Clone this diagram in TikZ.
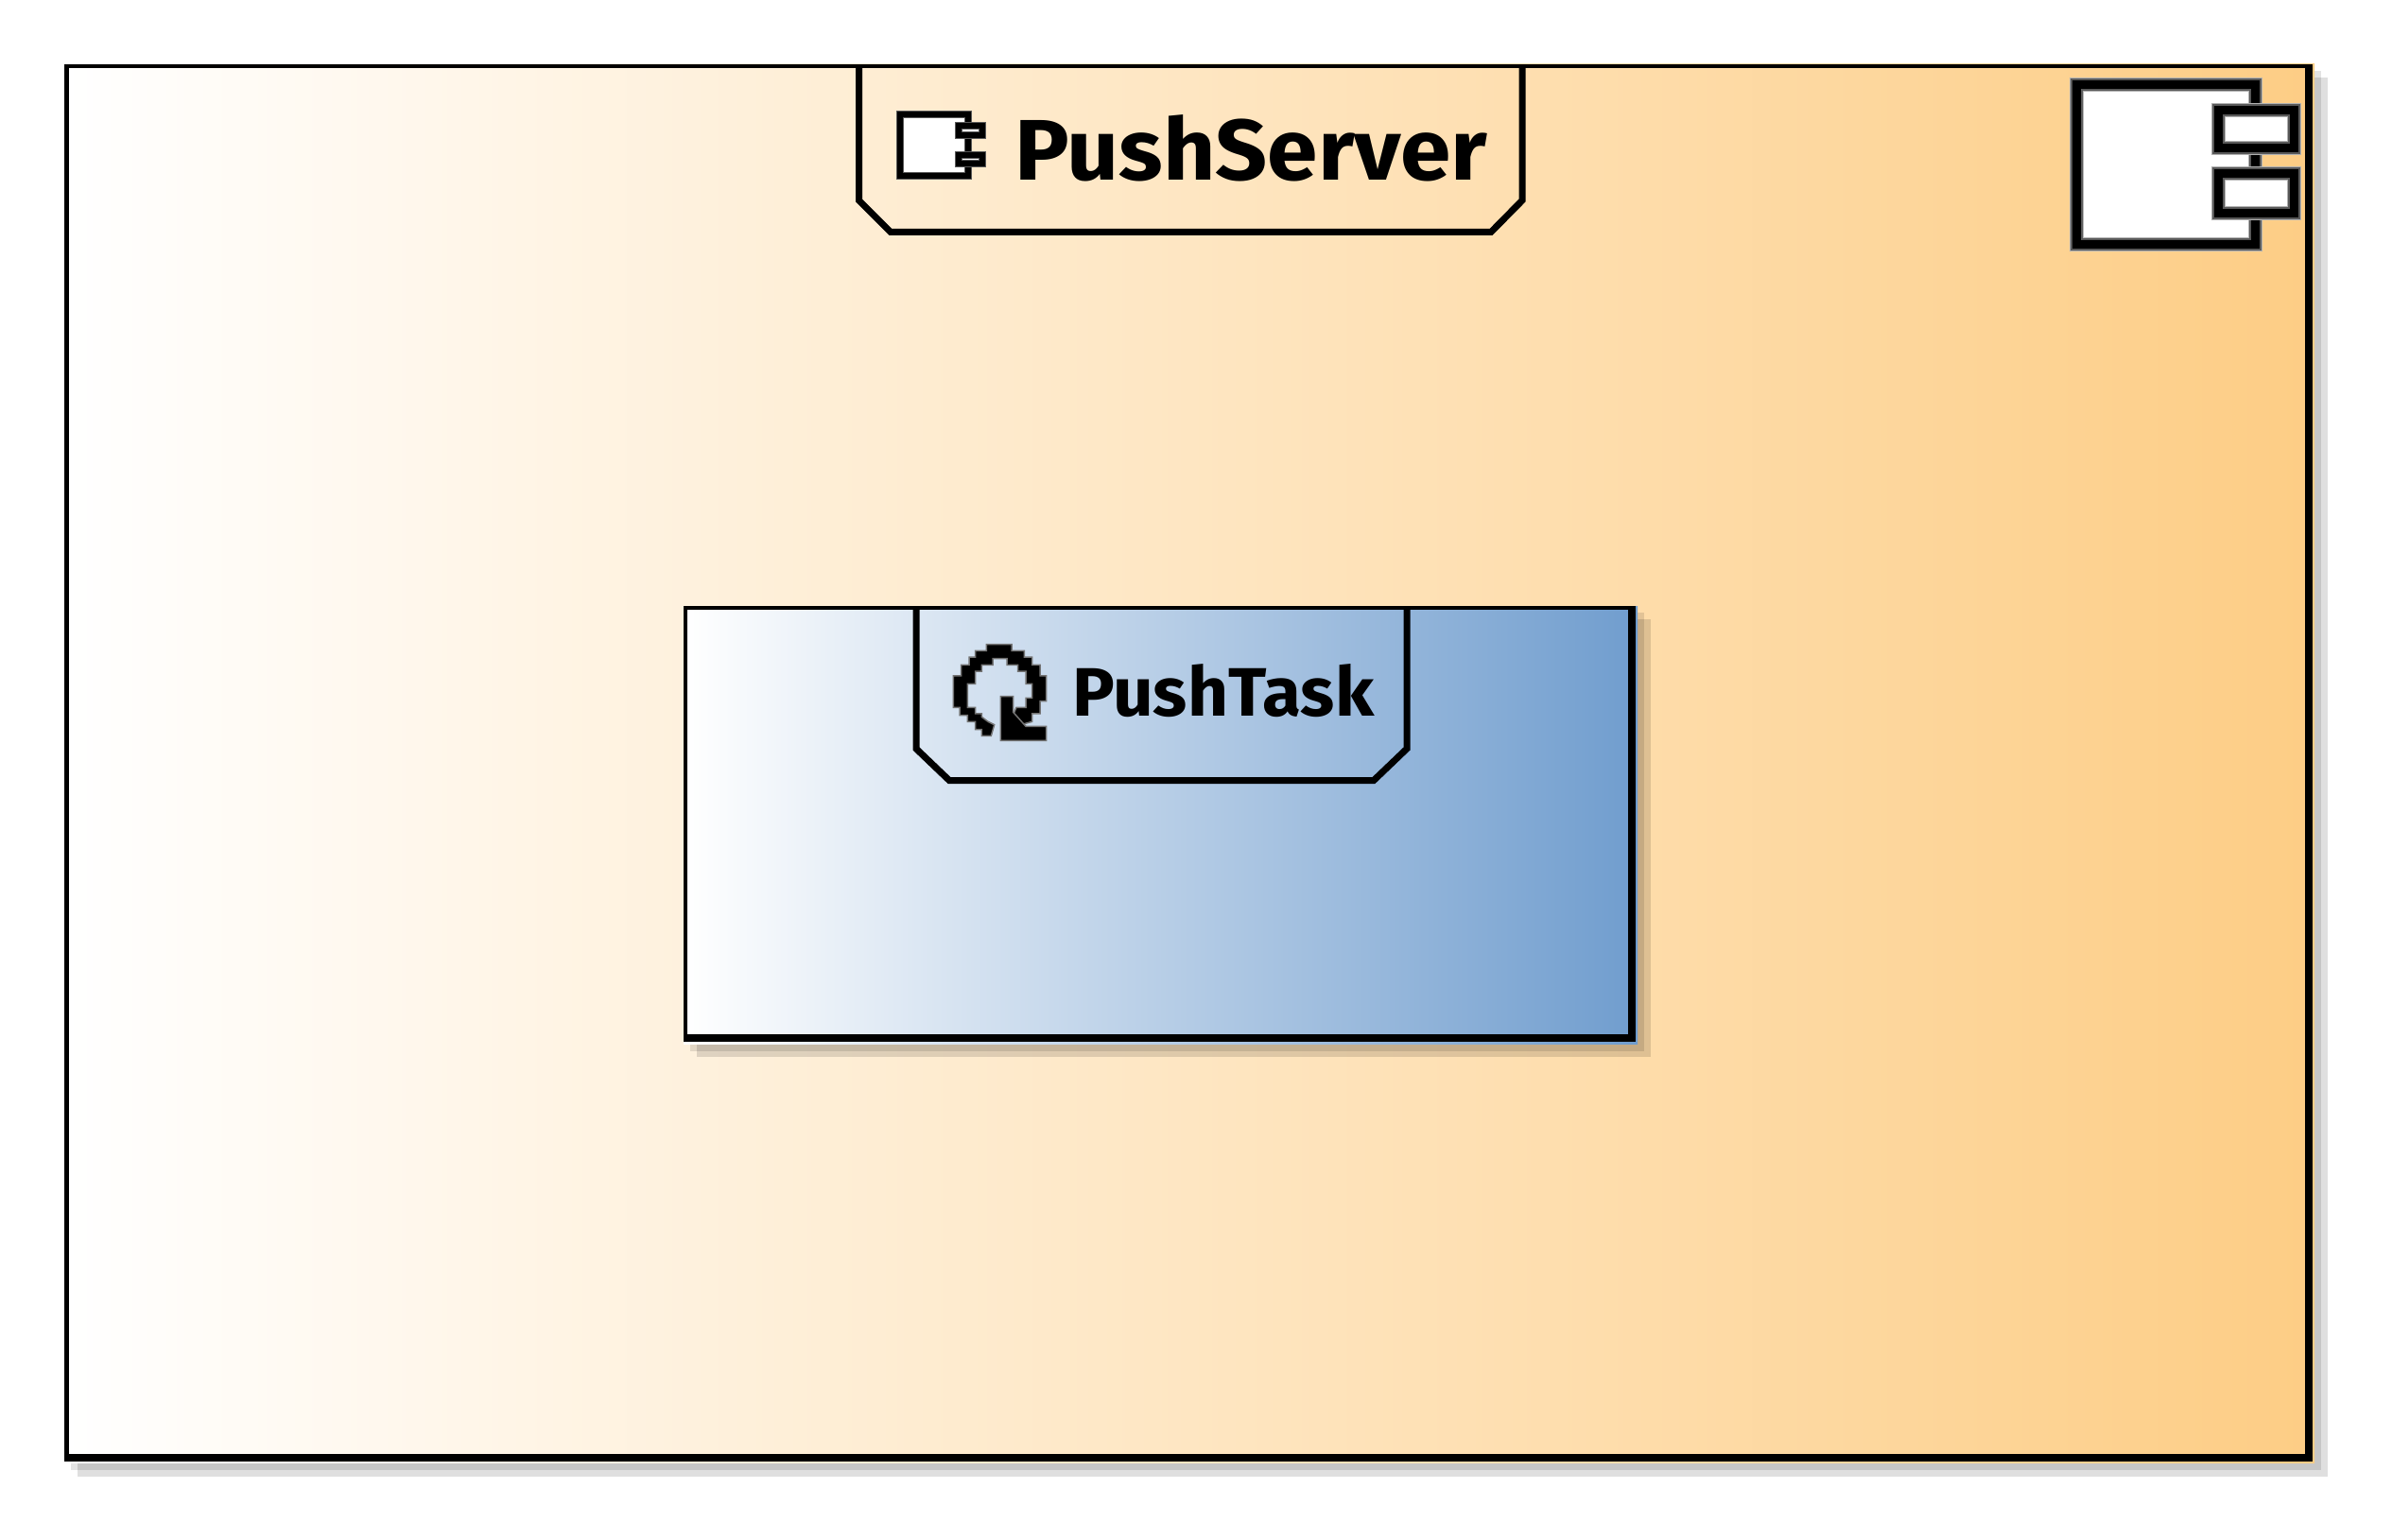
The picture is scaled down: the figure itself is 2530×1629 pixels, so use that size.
\documentclass[tikz,border=0pt]{standalone}
\usepackage{fontspec}
\setmainfont{Fira Sans}
\definecolor{orangeend}{HTML}{FDCD85}
\definecolor{blueend}{HTML}{709DCE}
\tikzset{
  shadowouter/.style={fill=black,fill opacity=0.125,draw=none},
  shadowinner/.style={fill=black,fill opacity=0.11,draw=none},
  thinedge/.style={draw=black,line width=4.4pt,line cap=butt,line join=miter},
  thickedge/.style={draw=black,line width=8pt,line cap=butt,line join=miter},
  tabline/.style={draw=black,line width=7pt,line join=miter,line cap=butt},
  textlabel/.style={inner sep=0pt,anchor=base west,text=black},
  softrim/.style={draw=black!30,line join=miter},
  midrim/.style={draw=black!65,line join=miter},
  corerim/.style={draw=black,line join=miter},
  iconshape/.style={fill=black,draw=black!55,line width=1.5pt,line join=miter}
}
\newcommand{\softrect}[5]{%
  \fill[white] (#1,#2) rectangle (#3,#4);
  \draw[softrim,line width=1.1*#5pt] (#1,#2) rectangle (#3,#4);
  \draw[midrim,line width=#5pt] (#1,#2) rectangle (#3,#4);
  \draw[corerim,line width=0.7*#5pt] (#1,#2) rectangle (#3,#4);
}
\begin{document}
\begin{tikzpicture}[x=1pt,y=-1pt]
\useasboundingbox (0,0) rectangle (2530,1629);
\fill[white] (0,0) rectangle (2530,1629);

% outer frame
\fill[shadowouter] (82,82) rectangle (2462,1562);
\fill[shadowinner] (75,75) rectangle (2455,1555);
\shade[left color=white,right color=orangeend] (68,68) rectangle (2448,1547);
\draw[thinedge] (70.4,1546) -- (70.4,70.2) -- (2446,70.2);
\draw[thickedge] (2442,68) -- (2442,1542) -- (68,1542);

% PushServer tab
\draw[tabline] (908.5,70) -- (908.5,212) -- (942,245.5) -- (1577,245.5) -- (1610,212) -- (1610,70);
\node[textlabel,font=\fontsize{91pt}{91pt}\selectfont\bfseries] (servername) at (1073,191) {\resizebox{500pt}{\height}{PushServer}};

% small component icon
\softrect{952}{121}{1024}{186}{8}
\softrect{1014}{133}{1039}{143}{8}
\softrect{1014}{164}{1039}{173}{8}

% large component icon
\softrect{2196.5}{89.5}{2385.5}{258.5}{13}
\softrect{2346.5}{116.5}{2426.5}{156.5}{13}
\softrect{2346.5}{183.5}{2426.5}{225.5}{13}

% inner frame
\fill[shadowouter] (737,655) rectangle (1746,1118);
\fill[shadowinner] (730,648) rectangle (1739,1112);
\shade[left color=white,right color=blueend] (723,641) rectangle (1732,1104);
\draw[thinedge] (725.2,1100) -- (725.2,643.2) -- (1728,643.2);
\draw[thickedge] (1726,641) -- (1726,1098) -- (723,1098);

% PushTask tab
\draw[tabline] (969,643) -- (969,792) -- (1004,825.5) -- (1453,825.5) -- (1488,792) -- (1488,643);
\node[textlabel,font=\fontsize{72.5pt}{72.5pt}\selectfont\bfseries] (taskname) at (1134,757) {\resizebox{319pt}{\height}{PushTask}};

% loop icon, stepped like the reference bitmap
\begin{scope}[shift={(990,670)},x=0.3333pt,y=-0.3333pt]
\draw[iconshape] (145,325) -- (145,305) -- (125,305) -- (125,280) -- (100,280) -- (100,260) -- (75,260) -- (75,235) -- (55,235) -- (55,135) -- (80,135) -- (80,100) -- (105,100) -- (105,75) -- (125,75) -- (125,55) -- (160,55) -- (160,35) -- (240,35) -- (240,55) -- (280,55) -- (280,75) -- (305,75) -- (305,100) -- (330,100) -- (330,135) -- (350,135) -- (350,215) -- (330,215) -- (330,255) -- (305,255) -- (305,280) -- (270,290) -- (240,270) -- (255,235) -- (285,235) -- (285,205) -- (305,205) -- (305,160) -- (285,160) -- (285,120) -- (260,120) -- (260,100) -- (225,100) -- (225,80) -- (180,80) -- (180,100) -- (145,100) -- (145,120) -- (125,120) -- (125,160) -- (100,160) -- (100,235) -- (125,235) -- (125,255) -- (145,255) -- (145,265) -- (165,280) -- (185,290) -- (175,325) -- cycle;
\draw[iconshape] (205,200) -- (245,200) -- (245,250) -- (285,295) -- (350,295) -- (350,340) -- (205,340) -- cycle;
\end{scope}
\end{tikzpicture}
\end{document}
